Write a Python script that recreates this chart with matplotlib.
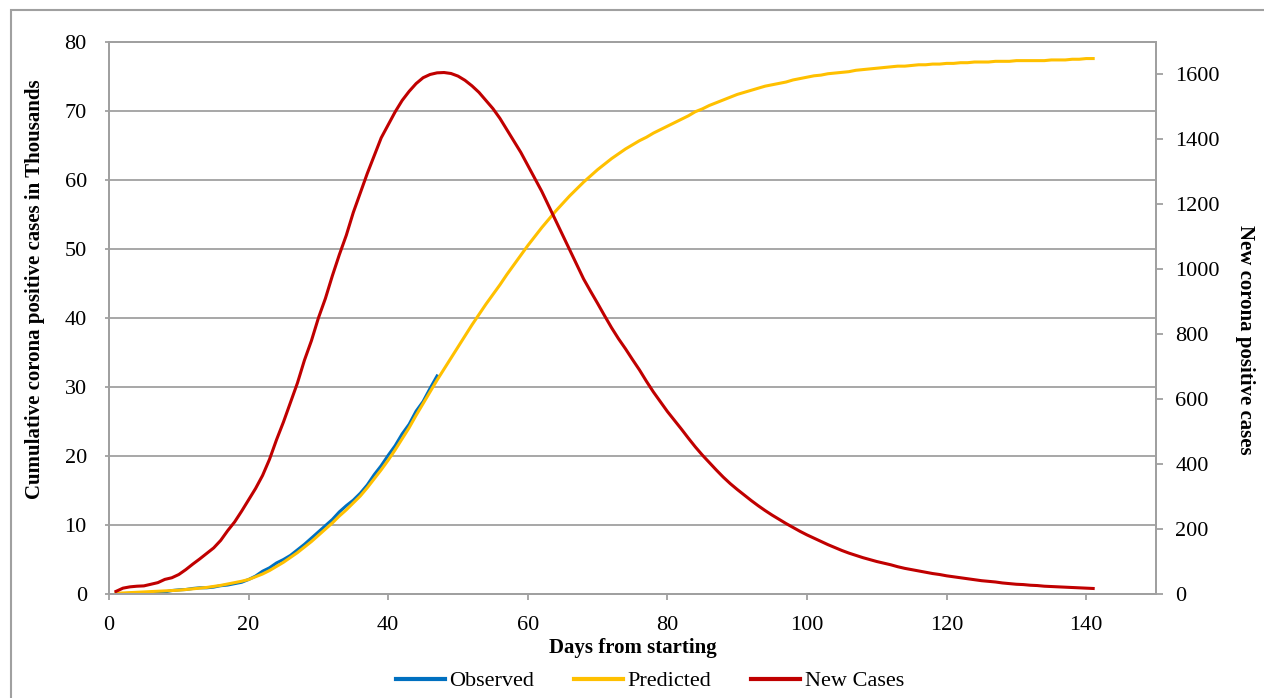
import matplotlib.pyplot as plt
from matplotlib.patches import Rectangle

# daily values
days_observed = list(range(1, 48))
observed = [0.0, 0.05, 0.1, 0.15, 0.2, 0.2, 0.25, 0.3, 0.5, 0.6,
            0.65, 0.8, 0.9, 0.9, 1.0, 1.2, 1.3, 1.5, 1.7, 2.1,
            2.6, 3.3, 3.8, 4.5, 5.0, 5.6, 6.4, 7.2, 8.1, 9.0,
            9.9, 10.8, 11.9, 12.8, 13.6, 14.6, 15.8, 17.3, 18.6, 20.1,
            21.5, 23.2, 24.6, 26.5, 27.9, 29.8, 31.6]

days = list(range(1, 142))
predicted = [0.1, 0.15, 0.2, 0.25, 0.3, 0.35, 0.4, 0.45, 0.5, 0.55,
             0.65, 0.75, 0.85, 0.95, 1.1, 1.25, 1.45, 1.65, 1.85, 2.1,
             2.5, 2.9, 3.4, 4.0, 4.6, 5.3, 6.0, 6.8, 7.6, 8.5,
             9.4, 10.3, 11.3, 12.2, 13.2, 14.2, 15.4, 16.7, 18.0, 19.4,
             20.9, 22.5, 24.1, 25.9, 27.6, 29.3, 31.0, 32.6, 34.2, 35.8,
             37.4, 39.0, 40.5, 42.0, 43.4, 44.8, 46.3, 47.7, 49.1, 50.5,
             51.8, 53.1, 54.3, 55.5, 56.6, 57.7, 58.7, 59.7, 60.6, 61.5,
             62.3, 63.1, 63.8, 64.5, 65.1, 65.7, 66.2, 66.8, 67.3, 67.8,
             68.3, 68.8, 69.3, 69.9, 70.3, 70.8, 71.2, 71.6, 72.0, 72.4,
             72.7, 73.0, 73.3, 73.6, 73.8, 74.0, 74.2, 74.5, 74.7, 74.9,
             75.1, 75.2, 75.4, 75.5, 75.6, 75.7, 75.9, 76.0, 76.1, 76.2,
             76.3, 76.4, 76.5, 76.5, 76.6, 76.7, 76.7, 76.8, 76.8, 76.9,
             76.9, 77.0, 77.0, 77.1, 77.1, 77.1, 77.2, 77.2, 77.2, 77.3,
             77.3, 77.3, 77.3, 77.3, 77.4, 77.4, 77.4, 77.5, 77.5, 77.6,
             77.6]
new_cases = [8, 18, 22, 24, 25, 30, 35, 45, 50, 60,
             75, 92, 108, 125, 142, 165, 195, 222, 255, 290,
             325, 365, 415, 475, 530, 590, 650, 720, 780, 850,
             910, 980, 1045, 1105, 1175, 1235, 1295, 1350, 1405, 1445,
             1485, 1520, 1548, 1572, 1590, 1600, 1605, 1606, 1603, 1595,
             1582, 1565, 1545, 1520, 1495, 1465, 1430, 1395, 1360, 1320,
             1280, 1240, 1195, 1150, 1105, 1060, 1015, 970, 932, 895,
             857, 820, 786, 755, 722, 690, 655, 622, 592, 562,
             535, 508, 480, 453, 428, 405, 382, 360, 340, 322,
             305, 288, 272, 257, 243, 230, 217, 205, 193, 182,
             172, 162, 152, 143, 134, 126, 119, 112, 106, 100,
             95, 90, 84, 79, 75, 71, 67, 63, 60, 56,
             53, 50, 47, 44, 41, 39, 37, 34, 32, 30,
             29, 27, 26, 24, 23, 22, 21, 20, 19, 18,
             17]

left_ticks = [0, 10, 20, 30, 40, 50, 60, 70, 80]
right_ticks = [0, 200, 400, 600, 800, 1000, 1200, 1400, 1600]
x_ticks = [0, 20, 40, 60, 80, 100, 120, 140]

plt.rcParams["font.family"] = ["Liberation Serif", "DejaVu Serif"]
grey = "#A0A0A0"

fig = plt.figure(figsize=(12.64, 6.98), dpi=100)
fig.patches.append(Rectangle((11 / 1264, -0.05), 1.2, 1 - 10 / 698 + 0.05,
                             transform=fig.transFigure, fill=False,
                             edgecolor=grey, linewidth=1.5))

ax = fig.add_axes([109 / 1264, 1 - 594 / 698, 1047 / 1264, 552 / 698])
ax2 = ax.twinx()

l1, = ax.plot(days_observed, observed, color="#0070C0", lw=2.2, label="Observed")
l2, = ax.plot(days, predicted, color="#FFC000", lw=2.2, label="Predicted")
l3, = ax2.plot(days, new_cases, color="#C00000", lw=2.2, label="New Cases")

ax.set_xlim(0, 150)
ax.set_ylim(0, 80)
ax2.set_ylim(0, 1700)
ax.set_xticks(x_ticks)
ax.set_yticks(left_ticks)
ax2.set_yticks(right_ticks)

ax.yaxis.grid(True, color=grey, lw=1.3)
ax.set_axisbelow(True)
for a in (ax, ax2):
    for s in a.spines.values():
        s.set_color(grey)
        s.set_linewidth(1.3)
ax.tick_params(axis="y", direction="out", length=3, width=1.3, color=grey,
               labelsize=16, pad=13)
ax.tick_params(axis="x", direction="out", length=4, width=1.3, color=grey,
               labelsize=16, pad=12)
ax2.tick_params(axis="y", direction="out", length=5, width=1.3, color=grey,
                labelsize=16, pad=9)

ax.set_xlabel("Days from starting", fontsize=15, fontweight="bold", labelpad=2)
ax.set_ylabel("Cumulative corona positive cases in Thousands", fontsize=15,
              fontweight="bold", va="center")
ax.yaxis.set_label_coords(-0.0707, 0.553)
ax2.set_ylabel("New corona positive cases", fontsize=15, fontweight="bold",
               rotation=270, va="center")
ax2.yaxis.set_label_coords(1.085, 0.46)

fig.legend(handles=[l1, l2, l3], loc="center", ncol=3, frameon=False,
           bbox_to_anchor=(650 / 1264, 1 - 681 / 698), fontsize=16,
           handlelength=2.2, handletextpad=0.2, columnspacing=1.8,
           prop={"size": 16})
for line in fig.legends[0].get_lines():
    line.set_linewidth(3)

fig.savefig("out.png", dpi=100)
